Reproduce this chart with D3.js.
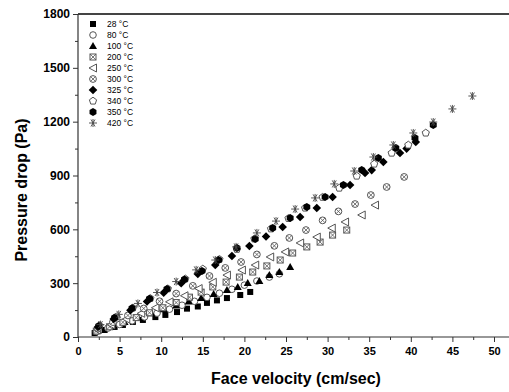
<!DOCTYPE html>
<html><head><meta charset="utf-8">
<script src="https://cdn.jsdelivr.net/npm/d3@7"></script>
<style>body{margin:0;background:#fff}svg{display:block}</style>
</head><body>
<svg id="c" width="509" height="392"></svg>
<script>
const xTicks = [0,5,10,15,20,25,30,35,40,45,50];
const yTicks = [0,300,600,900,1200,1500,1800];
const seriesNames = ["28 °C","80 °C","100 °C","200 °C","250 °C","300 °C","325 °C","340 °C","350 °C","420 °C"];
const markerKinds = ["square","circle","triangle","xsquare","ltri","xcircle","diamond","pentagon","hexagon","asterisk"];

const v28  = [2.0,3.2,4.4,5.4,6.6,7.8,9.3,10.5,11.9,13.1,14.4,15.5,16.7,17.9,19.5,20.7];
const p28  = [22,39,56,67,84,95,111,123,139,158,170,190,204,217,234,251];
const v80  = [2.2,3.6,5.0,6.5,8.0,9.5,11.0,12.5,14.0,15.5,17.0,18.5,20.0,21.5,23.0,24.2];
const p80  = [30,50,70,90,112,133,155,177,199,221,244,266,289,312,334,352];
const v100 = [2.4,4.0,5.6,7.2,8.8,10.3,11.8,13.3,14.8,16.3,17.9,19.2,20.4,21.8,23.0,24.2,25.5];
const p100 = [36,60,84,108,132,154,176,198,218,240,262,279,301,312,345,362,390];
const v200 = [2.2,3.8,5.4,7.0,8.6,10.2,11.8,13.4,14.8,16.2,17.8,19.4,21.0,22.7,24.3,25.8,27.5,29.1,30.6,32.3];
const p200 = [33,57,82,108,135,163,192,222,250,279,306,334,362,396,429,468,502,529,568,596];
const v250 = [2.3,4.0,5.8,7.6,9.3,11.0,12.8,14.5,16.2,17.9,19.7,21.3,23.1,24.9,26.7,28.7,30.5,32.1,34.1,35.7];
const p250 = [39,68,100,132,163,196,230,270,305,345,373,401,446,474,524,557,607,641,680,735];
const v300 = [2.4,4.2,6.0,7.9,9.8,11.8,13.8,15.8,17.7,19.6,21.5,23.6,25.4,27.4,29.4,31.3,33.3,35.2,37.1,39.2];
const p300 = [47,83,120,159,199,242,285,340,385,418,460,508,552,596,650,700,741,791,836,892];
const v325 = [2.4,4.3,6.3,8.3,10.3,12.4,14.4,16.5,18.5,20.6,22.6,24.6,26.7,28.7,30.6,32.7,34.5,35.3,36.7,38.7,39.5,40.6];
const p325 = [56,101,149,198,247,300,351,401,451,507,560,613,669,719,780,847,914,930,975,1025,1050,1087];
const v340 = [2.6,4.6,6.6,8.7,10.8,12.9,15.0,17.0,19.1,21.2,23.2,25.3,27.3,29.4,31.4,33.5,35.6,37.7,39.7,41.8];
const p340 = [63,112,162,215,269,324,379,433,489,547,603,661,719,779,830,897,964,1025,1070,1137];
const v350 = [2.5,4.4,6.5,8.6,10.7,12.8,14.9,16.9,19.1,21.3,23.4,25.5,27.5,29.7,31.9,34.1,36.1,38.2,40.5,42.7];
const p350 = [61,107,160,213,267,321,368,429,496,546,607,663,724,780,847,931,998,1053,1109,1181];
const v420 = [2.7,4.9,7.2,9.5,11.8,14.2,16.5,19.0,21.5,23.8,26.1,28.5,30.8,33.2,35.5,37.9,40.3,42.7,45.0,47.4];
const p420 = [69,126,187,248,309,374,429,502,580,646,713,775,853,925,1003,1070,1137,1198,1271,1343];

const vAll = [v28,v80,v100,v200,v250,v300,v325,v340,v350,v420];
const pAll = [p28,p80,p100,p200,p250,p300,p325,p340,p350,p420];

const svg = d3.select("#c");
const L = 78, R = 509, T = 14, B = 337;
const x = d3.scaleLinear().domain([0,50]).range([L, 494]);
const y = d3.scaleLinear().domain([0,1800]).range([B, T]);

const axisCol = "#333";
// top border
svg.append("line").attr("x1",L).attr("x2",R).attr("y1",T).attr("y2",T)
  .attr("stroke","#444").attr("stroke-width",2);

// x axis
const gx = svg.append("g").attr("transform",`translate(0,${B})`);
gx.call(d3.axisBottom(x).tickValues(xTicks).tickSize(5).tickSizeOuter(0).tickPadding(5).tickFormat(d3.format("d")));
gx.select(".domain").remove();
gx.append("line").attr("x1",L).attr("x2",R).attr("stroke",axisCol).attr("stroke-width",1.2);
gx.selectAll(".tick line").attr("stroke",axisCol);
gx.selectAll(".tick text").attr("font-family","Liberation Sans, Arial, sans-serif")
  .attr("font-weight","bold").attr("font-size",11).attr("fill","#000");
const gxm = svg.append("g").attr("transform",`translate(0,${B})`);
gxm.call(d3.axisBottom(x).tickValues(d3.range(2.5,52,5)).tickSize(3).tickFormat(""));
gxm.select(".domain").remove();
gxm.selectAll(".tick line").attr("stroke",axisCol);

// y axis
const gy = svg.append("g").attr("transform",`translate(${L},0)`);
gy.call(d3.axisLeft(y).tickValues(yTicks).tickSize(5).tickSizeOuter(0).tickPadding(3).tickFormat(d3.format("d")));
gy.select(".domain").remove();
gy.append("line").attr("y1",T).attr("y2",B).attr("stroke",axisCol).attr("stroke-width",1.2);
gy.selectAll(".tick line").attr("stroke",axisCol);
gy.selectAll(".tick text").attr("font-family","Liberation Sans, Arial, sans-serif")
  .attr("font-weight","bold").attr("font-size",12).attr("fill","#000");
const gym = svg.append("g").attr("transform",`translate(${L},0)`);
gym.call(d3.axisLeft(y).tickValues(d3.range(150,1800,300)).tickSize(3).tickFormat(""));
gym.select(".domain").remove();
gym.selectAll(".tick line").attr("stroke",axisCol);

// titles
svg.append("text").attr("x",296).attr("y",384).attr("text-anchor","middle")
  .attr("font-family","Liberation Sans, Arial, sans-serif").attr("font-weight","bold")
  .attr("font-size",16).text("Face velocity (cm/sec)");
svg.append("text").attr("transform","translate(27,190) rotate(-90)").attr("text-anchor","middle")
  .attr("font-family","Liberation Sans, Arial, sans-serif").attr("font-weight","bold")
  .attr("font-size",16).text("Pressure drop (Pa)");

// markers
function poly(n, r, rot){
  const pts=[];
  for(let i=0;i<n;i++){const a=rot+i*2*Math.PI/n; pts.push([r*Math.cos(a), r*Math.sin(a)]);}
  return "M"+pts.map(p=>p[0].toFixed(2)+","+p[1].toFixed(2)).join("L")+"Z";
}
function drawMarker(g, kind, cx, cy){
  const s = g.append("g").attr("transform",`translate(${cx},${cy})`);
  const open = {fill:"#fff", stroke:"#555", "stroke-width":1};
  const apply=(el,o)=>{for(const k in o) el.attr(k,o[k]); return el;};
  switch(kind){
    case "square": s.append("rect").attr("x",-3).attr("y",-3).attr("width",6).attr("height",6).attr("fill","#000"); break;
    case "circle": apply(s.append("circle").attr("r",3.3),open); break;
    case "triangle": s.append("path").attr("d","M0,-4L4,3L-4,3Z").attr("fill","#000"); break;
    case "xsquare": apply(s.append("rect").attr("x",-3).attr("y",-3).attr("width",6).attr("height",6),open);
      s.append("path").attr("d","M-3,-3L3,3M3,-3L-3,3").attr("stroke","#555").attr("stroke-width",0.8); break;
    case "ltri": apply(s.append("path").attr("d","M-4,0L3.5,-4L3.5,4Z"),open); break;
    case "xcircle": apply(s.append("circle").attr("r",3.4),open);
      s.append("path").attr("d","M-2.4,-2.4L2.4,2.4M2.4,-2.4L-2.4,2.4").attr("stroke","#555").attr("stroke-width",0.8); break;
    case "diamond": s.append("path").attr("d","M0,-4.3L4.3,0L0,4.3L-4.3,0Z").attr("fill","#000"); break;
    case "pentagon": apply(s.append("path").attr("d",poly(5,3.8,-Math.PI/2)),open); break;
    case "hexagon": s.append("path").attr("d",poly(6,4,-Math.PI/2)).attr("fill","#000"); break;
    case "asterisk": s.append("path").attr("d","M-4,0L4,0M-2,-3.5L2,3.5M2,-3.5L-2,3.5M0,-4L0,4")
      .attr("stroke","#444").attr("stroke-width",0.9); break;
  }
}

const gp = svg.append("g");
vAll.forEach((vs,i)=>{
  vs.forEach((v,j)=> drawMarker(gp, markerKinds[i], x(v), y(pAll[i][j])));
});

// legend
const gl = svg.append("g");
seriesNames.forEach((name,i)=>{
  const yy = 24 + i*11;
  drawMarker(gl, markerKinds[i], 93, yy);
  gl.append("text").attr("x",107).attr("y",yy+3).attr("font-family","Liberation Sans, Arial, sans-serif")
    .attr("font-size",8.5).attr("fill","#000").text(name);
});
</script>
</body></html>
